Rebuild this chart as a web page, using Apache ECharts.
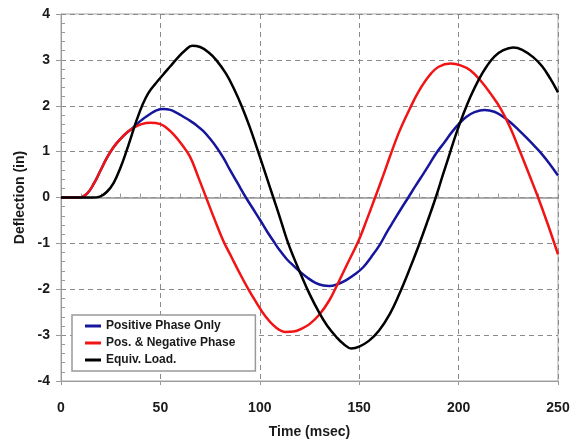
<!DOCTYPE html>
<html>
<head>
<meta charset="utf-8">
<style>
    html, body { margin: 0; padding: 0; background: #fff; }
    #echart1 { width: 573px; height: 447px; }
</style>
<script src="https://cdn.jsdelivr.net/npm/echarts@6/dist/echarts.min.js"></script>
</head>
<body>
<div id="echart1"></div>
<script>
// 读图得到的数据 (time msec / deflection in)
var posTime = [0, 9, 13, 16.5, 20, 23, 26.5, 30, 33, 36.5, 40, 44.5, 48, 51.5, 55, 58, 62, 65, 68, 71.5, 75, 78.5, 82, 85, 89, 93, 96.5, 100, 103.5, 107, 110, 113.5, 117, 120, 124, 128, 132, 135, 139, 143.5, 148, 152, 156, 160.5, 164, 167.5, 171, 174.7, 178, 182, 185.5, 189, 193, 196.5, 200.5, 204, 208, 213, 218, 222, 226, 230, 234, 238, 242, 246, 250];
var posDefl = [0, 0, 0.08, 0.3, 0.6, 0.86, 1.1, 1.28, 1.41, 1.53, 1.67, 1.81, 1.9, 1.93, 1.91, 1.85, 1.75, 1.67, 1.58, 1.45, 1.28, 1.08, 0.84, 0.6, 0.3, 0, -0.24, -0.48, -0.73, -0.96, -1.15, -1.34, -1.49, -1.61, -1.75, -1.86, -1.92, -1.93, -1.89, -1.8, -1.67, -1.52, -1.3, -1.02, -0.75, -0.5, -0.25, 0, 0.23, 0.5, 0.74, 0.98, 1.21, 1.42, 1.62, 1.76, 1.86, 1.91, 1.87, 1.77, 1.64, 1.48, 1.31, 1.13, 0.94, 0.72, 0.48];

var negTime = [0, 9, 13, 16.5, 20, 23, 26.5, 30, 33, 36.5, 40.5, 45, 50, 53, 56.5, 60.5, 65, 69, 73, 77, 81.5, 86, 90, 94, 98, 103, 108, 113, 117, 121, 125, 130, 135, 139, 144, 149.5, 153.5, 158, 162, 165.5, 170, 175.5, 180, 185.5, 190, 196, 201, 206, 211, 216, 221, 226, 231, 235.5, 240, 245, 250];
var negDefl = [0, 0, 0.08, 0.3, 0.6, 0.86, 1.1, 1.28, 1.41, 1.52, 1.6, 1.63, 1.6, 1.52, 1.38, 1.17, 0.88, 0.45, 0, -0.45, -0.93, -1.32, -1.66, -1.98, -2.27, -2.6, -2.83, -2.93, -2.92, -2.86, -2.76, -2.55, -2.24, -1.9, -1.45, -0.96, -0.52, 0, 0.47, 0.9, 1.42, 1.94, 2.32, 2.67, 2.85, 2.92, 2.88, 2.77, 2.55, 2.27, 1.95, 1.52, 0.99, 0.5, 0, -0.6, -1.24];

var eqTime = [0, 16, 19.5, 23, 26.5, 30, 33, 35.5, 38, 41, 44, 47.5, 51, 55, 59, 62.5, 66, 70, 74, 78, 83, 87, 91, 95, 99, 103, 106.8, 110, 113.5, 117, 120.5, 125, 130, 134, 138.5, 142, 146, 150, 155, 160, 165.5, 170, 175, 180, 184.5, 188.5, 192, 195.7, 199, 202.5, 206, 210, 214, 218, 222.5, 227.5, 232, 237.5, 242, 246, 250];
var eqDefl = [0, 0, 0.02, 0.12, 0.32, 0.66, 1.02, 1.35, 1.68, 2.02, 2.28, 2.48, 2.66, 2.86, 3.06, 3.21, 3.31, 3.28, 3.17, 3.0, 2.7, 2.37, 1.98, 1.53, 1.02, 0.5, 0, -0.42, -0.9, -1.3, -1.66, -2.1, -2.52, -2.8, -3.04, -3.19, -3.29, -3.25, -3.12, -2.9, -2.53, -2.12, -1.6, -1.04, -0.5, 0, 0.48, 0.98, 1.42, 1.83, 2.2, 2.56, 2.85, 3.07, 3.21, 3.27, 3.22, 3.06, 2.86, 2.6, 2.29];

var seriesNames = ['Positive Phase Only', 'Pos. & Negative Phase', 'Equiv. Load.'];
var seriesColors = ['#16169c', '#f21414', '#000000'];
var xTicks = [0, 250, 50];   // min, max, interval
var yTicks = [-4, 4, 1];

function pairs(t, v) {
    var out = [];
    for (var i = 0; i < t.length; i++) {
        out.push([t[i], v[i]]);
    }
    return out;
}

echarts_1();

function echarts_1() {
    var myChart = echarts.init(document.getElementById('echart1'));
    var font = 'Liberation Sans, Arial, sans-serif';
    var gray = '#9a9a9a';
    var dash = { type: [5, 4], color: '#8a8a8a', width: 1 };
    var allData = [pairs(posTime, posDefl), pairs(negTime, negDefl), pairs(eqTime, eqDefl)];

    var series = [];
    for (var i = 0; i < allData.length; i++) {
        series.push({
            name: seriesNames[i],
            type: 'line',
            smooth: 0.4,
            showSymbol: false,
            symbol: 'none',
            xAxisIndex: 0,
            yAxisIndex: 0,
            lineStyle: { width: 2.5, color: seriesColors[i] },
            itemStyle: { color: seriesColors[i] },
            data: allData[i]
        });
    }

    option = {
        animation: false,
        backgroundColor: '#fff',
        color: seriesColors,
        grid: {
            left: 61,
            right: 15,
            top: 14,
            bottom: 66,
            show: true,
            borderColor: '#a8a8a8',
            borderWidth: 1
        },
        legend: {
            data: seriesNames,
            orient: 'vertical',
            left: 72,
            top: 315,
            icon: 'rect',
            itemWidth: 16,
            itemHeight: 3,
            itemGap: 5,
            padding: [5, 20, 5, 13],
            backgroundColor: '#fff',
            borderColor: '#999',
            borderWidth: 1.5,
            textStyle: { color: '#1a1a1a', fontSize: 12, fontWeight: 'bold', fontFamily: font }
        },
        xAxis: [{
            type: 'value',
            min: xTicks[0],
            max: xTicks[1],
            interval: xTicks[2],
            position: 'bottom',
            name: 'Time (msec)',
            nameLocation: 'middle',
            nameGap: 44,
            nameTextStyle: { color: '#1a1a1a', fontSize: 14, fontWeight: 'bold', fontFamily: font },
            axisLine: { onZero: false, lineStyle: { color: gray } },
            axisTick: { show: true, length: 4, lineStyle: { color: gray } },
            axisLabel: { color: '#1a1a1a', fontSize: 14, fontWeight: 'bold', fontFamily: font, margin: 20 },
            splitLine: { show: true, lineStyle: dash }
        }, {
            // 零线 + 小刻度
            type: 'value',
            min: xTicks[0],
            max: xTicks[1],
            interval: xTicks[2],
            position: 'bottom',
            axisLine: { onZero: true, lineStyle: { color: '#949494', width: 1.5 } },
            axisTick: { show: false, inside: true },
            minorTick: { show: true, splitNumber: 5, length: 4, lineStyle: { color: gray } },
            axisLabel: { show: false },
            splitLine: { show: false }
        }],
        yAxis: [{
            type: 'value',
            min: yTicks[0],
            max: yTicks[1],
            interval: yTicks[2],
            name: 'Deflection (in)',
            nameLocation: 'middle',
            nameGap: 34,
            nameTextStyle: { color: '#1a1a1a', fontSize: 14, fontWeight: 'bold', fontFamily: font },
            axisLine: { show: true, onZero: false, lineStyle: { color: gray } },
            axisTick: { show: true, length: 5, lineStyle: { color: gray } },
            axisLabel: { color: '#1a1a1a', fontSize: 14, fontWeight: 'bold', fontFamily: font, margin: 11 },
            splitLine: { show: true, lineStyle: dash }
        }, {
            type: 'value',
            min: yTicks[0],
            max: yTicks[1],
            interval: yTicks[2],
            position: 'left',
            axisLine: { show: false, onZero: false },
            axisTick: { show: false, inside: true },
            minorTick: { show: true, splitNumber: 5, length: 4, lineStyle: { color: gray } },
            axisLabel: { show: false },
            splitLine: { show: false }
        }],
        series: series
    };

    myChart.setOption(option);
    window.addEventListener("resize", function () {
        myChart.resize();
    });
}
</script>
</body>
</html>
